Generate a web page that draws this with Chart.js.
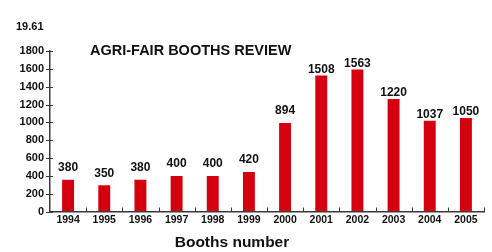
<!DOCTYPE html>
<html>
<head>
<meta charset="utf-8">
<script src="https://cdn.jsdelivr.net/npm/chart.js@4/dist/chart.umd.min.js"></script>
<style>
html,body{margin:0;padding:0;background:#fff;}
#wrap{width:492px;height:252px;position:relative;}
</style>
</head>
<body>
<div id="wrap"><canvas id="c" width="492" height="252"></canvas></div>
<script>
const years = ['1994','1995','1996','1997','1998','1999','2000','2001','2002','2003','2004','2005'];
const barHeights = [355, 295, 355, 398, 398, 443, 993, 1525, 1592, 1263, 1019, 1049];
const valueLabels = ['380','350','380','400','400','420','894','1508','1563','1220','1037','1050'];
const yTicks = [0,200,400,600,800,1000,1200,1400,1600,1800];
const chartTitle = 'AGRI-FAIR BOOTHS REVIEW';
const cornerText = '19.61';
const xTitle = 'Booths number';

const FONT = '"Liberation Sans", Arial, Helvetica, sans-serif';
const TEXT = '#111';
const AXIS = '#3a3a3a';

const deco = {
  id: 'deco',
  afterDatasetsDraw(chart) {
    const ctx = chart.ctx;
    const xs = chart.scales.x;
    const ys = chart.scales.y;
    const area = chart.chartArea;
    ctx.save();
    ctx.strokeStyle = AXIS;
    ctx.lineWidth = 1;
    // category boundary ticks pointing up
    for (let i = 1; i <= years.length; i++) {
      const a = xs.getPixelForValue(i - 1);
      const b = i < years.length ? xs.getPixelForValue(i) : a + (a - xs.getPixelForValue(i - 2));
      const x = Math.round((a + b) / 2) + 0.5;
      ctx.beginPath();
      ctx.moveTo(x, area.bottom);
      ctx.lineTo(x, area.bottom - 4);
      ctx.stroke();
    }
    // y tick marks
    yTicks.forEach(v => {
      const y = Math.round(ys.getPixelForValue(v)) + 0.5;
      ctx.beginPath();
      ctx.moveTo(area.left - 4, y);
      ctx.lineTo(area.left + 3, y);
      ctx.stroke();
    });
    // value labels
    const meta = chart.getDatasetMeta(0);
    ctx.fillStyle = TEXT;
    ctx.font = 'bold 12px ' + FONT;
    ctx.textAlign = 'center';
    ctx.textBaseline = 'middle';
    meta.data.forEach((bar, i) => {
      const off = barHeights[i] < 1000 ? 12 : 6;
      ctx.fillText(valueLabels[i], bar.x, bar.y - off);
    });
    // texts
    ctx.textAlign = 'left';
    ctx.font = 'bold 11px ' + FONT;
    ctx.fillText(cornerText, 16, 27);
    ctx.font = 'bold 14.5px ' + FONT;
    ctx.fillText(chartTitle, 90, 50.5);
    ctx.textAlign = 'center';
    ctx.font = 'bold 15.5px ' + FONT;
    ctx.fillText(xTitle, 232, 243);
    ctx.restore();
  }
};

new Chart(document.getElementById('c'), {
  type: 'bar',
  data: {
    labels: years,
    datasets: [{
      data: barHeights,
      backgroundColor: '#d4000f',
      borderWidth: 0,
      barPercentage: 0.33,
      categoryPercentage: 1
    }]
  },
  options: {
    responsive: false,
    animation: false,
    events: [],
    layout: { padding: { top: 51, right: 8, left: 0, bottom: 0 } },
    plugins: { legend: { display: false }, tooltip: { enabled: false }, title: { display: false } },
    scales: {
      x: {
        offset: true,
        grid: { display: true, drawOnChartArea: false, drawTicks: false, offset: true },
        border: { display: true, color: AXIS, width: 1.5 },
        ticks: { color: TEXT, font: { family: FONT, size: 10.5, weight: 'bold' }, padding: 2, maxRotation: 0, autoSkip: false },
        afterFit(s) { s.height = 40.5; }
      },
      y: {
        min: 0, max: 1800,
        afterBuildTicks(s) { s.ticks = yTicks.map(v => ({ value: v })); },
        grid: { display: true, drawOnChartArea: false, drawTicks: true, tickLength: 4, color: 'rgba(0,0,0,0)' },
        border: { display: true, color: AXIS, width: 1.5 },
        ticks: { color: TEXT, font: { family: FONT, size: 11, weight: 'bold' }, padding: 2, callback: v => String(v) },
        afterFit(s) { s.width = 50; }
      }
    }
  },
  plugins: [deco]
});
</script>
</body>
</html>
